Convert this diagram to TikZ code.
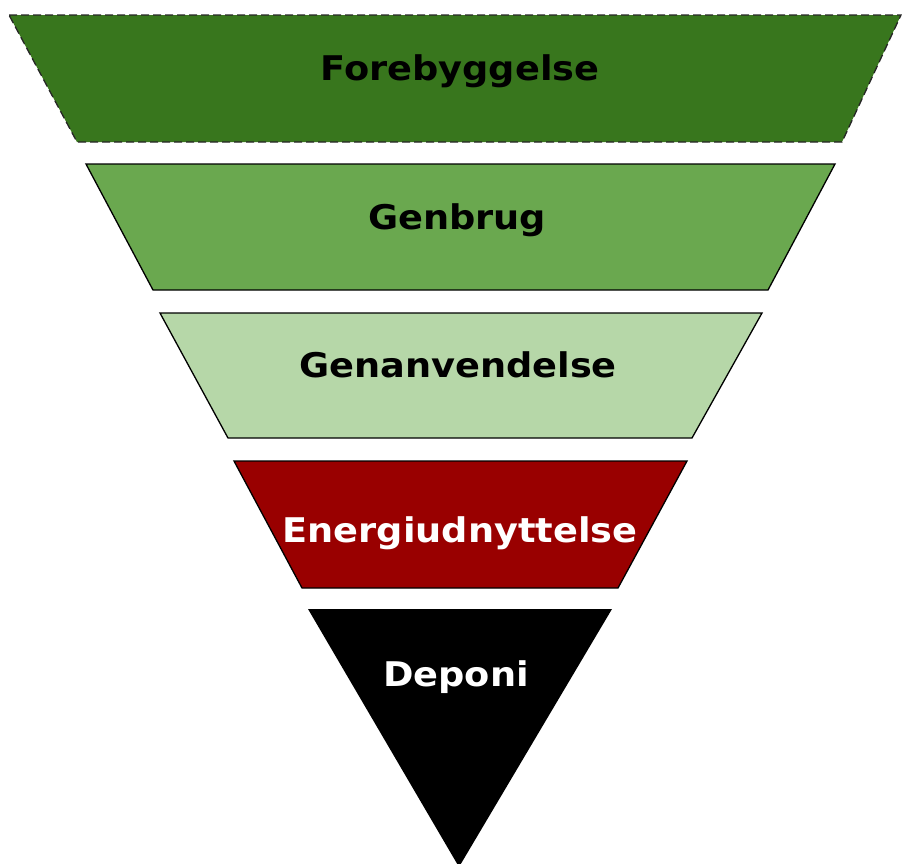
\documentclass[tikz,border=0pt]{standalone}
\usepackage{fontspec}
\setmainfont{DejaVu Sans}
\definecolor{gA}{HTML}{38761D}
\definecolor{gB}{HTML}{6AA84F}
\definecolor{gC}{HTML}{B6D7A8}
\definecolor{rD}{HTML}{990000}
\begin{document}
\begin{tikzpicture}[x=1pt,y=-1pt,
  tier/.style={draw=black, line width=1.3pt, line join=miter},
  lbl/.style={font=\fontsize{34}{36}\selectfont\bfseries, inner sep=0pt, anchor=base, xscale=1.08}]
\useasboundingbox (0,0) rectangle (902,863);
\clip (0,0) rectangle (902,863);
\fill[gA] (9,15) -- (901,15) -- (842,142) -- (77,142) -- cycle;
\draw[line width=1.3pt, dash pattern=on 8pt off 4pt, black!85] (9,15) -- (901,15) -- (842,142) -- (77,142) -- cycle;
\draw[tier, fill=gB] (86,164) -- (835,164) -- (768,290) -- (153,290) -- cycle;
\draw[tier, fill=gC] (160,313) -- (762,313) -- (692,438) -- (228,438) -- cycle;
\draw[tier, fill=rD] (234,461) -- (687,461) -- (618,588) -- (302,588) -- cycle;
\fill[black] (308,609) -- (612,609) -- (459,867) -- cycle;
\node[lbl, text=black] (fore) at (460,80) {Forebyggelse};
\node[lbl, text=black] (genb) at (457,229) {Genbrug};
\node[lbl, text=black] (gena) at (458,377) {Genanvendelse};
\node[lbl, text=white] (ener) at (460,542) {Energiudnyttelse};
\node[lbl, text=white] (depo) at (456,686) {Deponi};
\end{tikzpicture}
\end{document}
